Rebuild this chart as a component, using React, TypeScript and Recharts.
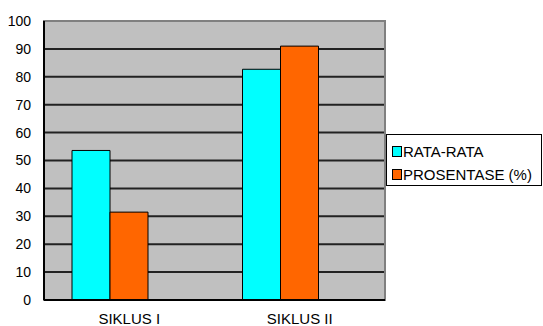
import React from 'react';
import { BarChart, Bar, XAxis, YAxis, CartesianGrid, Legend, ReferenceArea } from 'recharts';

const categories = ['SIKLUS I', 'SIKLUS II'];
const rataRata = [53.6, 82.7];
const prosentase = [31.5, 91.0];
const kosong = [null, null]; // seri ketiga kosong (ruang tetap dipakai)
const yTicks = [0, 10, 20, 30, 40, 50, 60, 70, 80, 90, 100];

const legendItems = [
  { label: 'RATA-RATA', color: '#00FFFF' },
  { label: 'PROSENTASE (%)', color: '#FF6600' },
];

const data = categories.map((c, i) => ({
  name: c,
  rata: rataRata[i],
  pros: prosentase[i],
  kosong: kosong[i],
}));

const FONT = '"Liberation Sans", Arial, sans-serif';

const renderLegend = () => (
  <div
    style={{
      border: '1px solid #000',
      background: '#fff',
      boxSizing: 'border-box',
      width: 156,
      height: 52,
      padding: '5px 0 0 5px',
      fontFamily: FONT,
      fontSize: 15,
    }}
  >
    {legendItems.map((it) => (
      <div key={it.label} style={{ display: 'flex', alignItems: 'center', height: 23 }}>
        <span
          style={{
            display: 'inline-block',
            width: 8,
            height: 9,
            background: it.color,
            border: '1px solid #000',
            marginRight: 1,
          }}
        />
        <span>{it.label}</span>
      </div>
    ))}
  </div>
);

export default function App() {
  return (
    <div style={{ position: 'absolute', left: 0, top: 0 }}>
      <BarChart
        width={543}
        height={326}
        data={data}
        margin={{ top: 21, right: 2, bottom: 0, left: 0 }}
        barGap={0}
        barCategoryGap={28}
      >
        <CartesianGrid fill="#C0C0C0" vertical={false} stroke="#222" strokeWidth={2} />
        <ReferenceArea y1={0} y2={100} fill="none" stroke="#808080" strokeWidth={2} />
        <XAxis
          dataKey="name"
          height={26}
          axisLine={{ stroke: '#000', strokeWidth: 2 }}
          tickLine={false}
          tickMargin={7}
          tick={{ fill: '#000', fontSize: 15, fontFamily: FONT }}
        />
        <YAxis
          width={44}
          domain={[0, 100]}
          ticks={yTicks}
          interval={0}
          axisLine={{ stroke: '#000', strokeWidth: 2 }}
          tickLine={false}
          tickMargin={7}
          tick={{ fill: '#000', fontSize: 14, fontFamily: FONT }}
        />
        <Bar dataKey="rata" fill="#00FFFF" stroke="#000" strokeWidth={1} isAnimationActive={false} />
        <Bar dataKey="pros" fill="#FF6600" stroke="#000" strokeWidth={1} isAnimationActive={false} />
        <Bar dataKey="kosong" fill="none" stroke="none" isAnimationActive={false} legendType="none" />
        <Legend
          content={renderLegend}
          layout="vertical"
          verticalAlign="top"
          align="right"
          wrapperStyle={{ position: 'absolute', left: 386, top: 134, width: 156 }}
        />
      </BarChart>
    </div>
  );
}
